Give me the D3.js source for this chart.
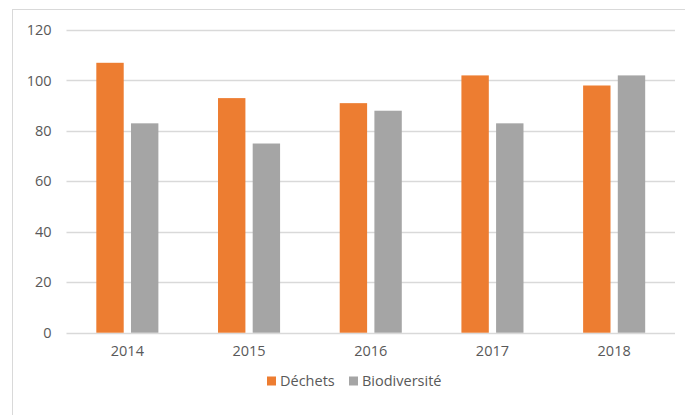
<!DOCTYPE html>
<html>
<head>
<meta charset="utf-8">
<title>Déchets / Biodiversité</title>
<script src="https://cdn.jsdelivr.net/npm/d3@7"></script>
<style>
body { margin: 0; background: #fff; }
text { font-family: "Open Sans", "Noto Sans", sans-serif; fill: #595959; }
</style>
</head>
<body>
<svg width="685" height="415"></svg>
<script>

var annees = ["2014", "2015", "2016", "2017", "2018"];
var series = ["Déchets", "Biodiversité"];
var dechets = [107, 93, 91, 102, 98];
var biodiversite = [83, 75, 88, 83, 102];
var yTicks = [0, 20, 40, 60, 80, 100, 120];
var couleurs = ["#ed7d31", "#a5a5a5"];

var valeurs = [dechets, biodiversite];

var svg = d3.select("svg");

// cadre du graphique
svg.append("rect")
  .attr("x", 12.5).attr("y", 9.5)
  .attr("width", 700).attr("height", 420)
  .attr("fill", "#fff")
  .attr("stroke", "#d9d9d9");

var x = d3.scaleBand().domain(annees).range([66.5, 675]).paddingInner(0.49).paddingOuter(0.245);
var xs = d3.scaleBand().domain(series).range([0, x.bandwidth()]).paddingInner(0.21);
var y = d3.scaleLinear().domain([0, 120]).range([332.7, 30]);

// grille
svg.append("g")
  .selectAll("line")
  .data(yTicks)
  .enter().append("line")
  .attr("x1", 66.5).attr("x2", 675)
  .attr("y1", function(d) { return Math.round(y(d)) + 0.5; })
  .attr("y2", function(d) { return Math.round(y(d)) + 0.5; })
  .attr("stroke", "#d9d9d9")
  .attr("stroke-width", 1.5);

var yAxis = svg.append("g")
  .attr("transform", "translate(66.5,0)")
  .call(d3.axisLeft(y).tickValues(yTicks).tickSize(0).tickPadding(15));
yAxis.select(".domain").remove();
yAxis.selectAll("text").attr("font-size", 14.5).style("font-family", "'Open Sans', sans-serif").attr("fill", "#595959");

// barres
svg.append("g")
  .selectAll("g")
  .data(annees)
  .enter().append("g")
  .attr("transform", function(d) { return "translate(" + x(d) + ",0)"; })
  .selectAll("rect")
  .data(function(d, i) { return series.map(function(s, j) { return { serie: s, v: valeurs[j][i], c: couleurs[j] }; }); })
  .enter().append("rect")
  .attr("x", function(d) { return xs(d.serie); })
  .attr("y", function(d) { return y(d.v); })
  .attr("width", xs.bandwidth())
  .attr("height", function(d) { return y(0) - y(d.v); })
  .attr("fill", function(d) { return d.c; });

var xAxis = svg.append("g")
  .attr("transform", "translate(0,333)")
  .call(d3.axisBottom(x).tickSize(0).tickPadding(13));
xAxis.select(".domain").remove();
xAxis.selectAll("text").attr("font-size", 14.5).style("font-family", "'Open Sans', sans-serif").attr("fill", "#595959");

// légende
var legende = svg.append("g").attr("transform", "translate(267,381)");
var posLeg = [0, 82];
series.forEach(function(s, j) {
  var g = legende.append("g").attr("transform", "translate(" + posLeg[j] + ",0)");
  g.append("rect").attr("x", 0).attr("y", -4.5).attr("width", 9).attr("height", 9).attr("fill", couleurs[j]);
  g.append("text").attr("x", 13).attr("y", 0).attr("dy", "0.35em")
    .attr("font-size", 14.5).text(s);
});

</script>
</body>
</html>
